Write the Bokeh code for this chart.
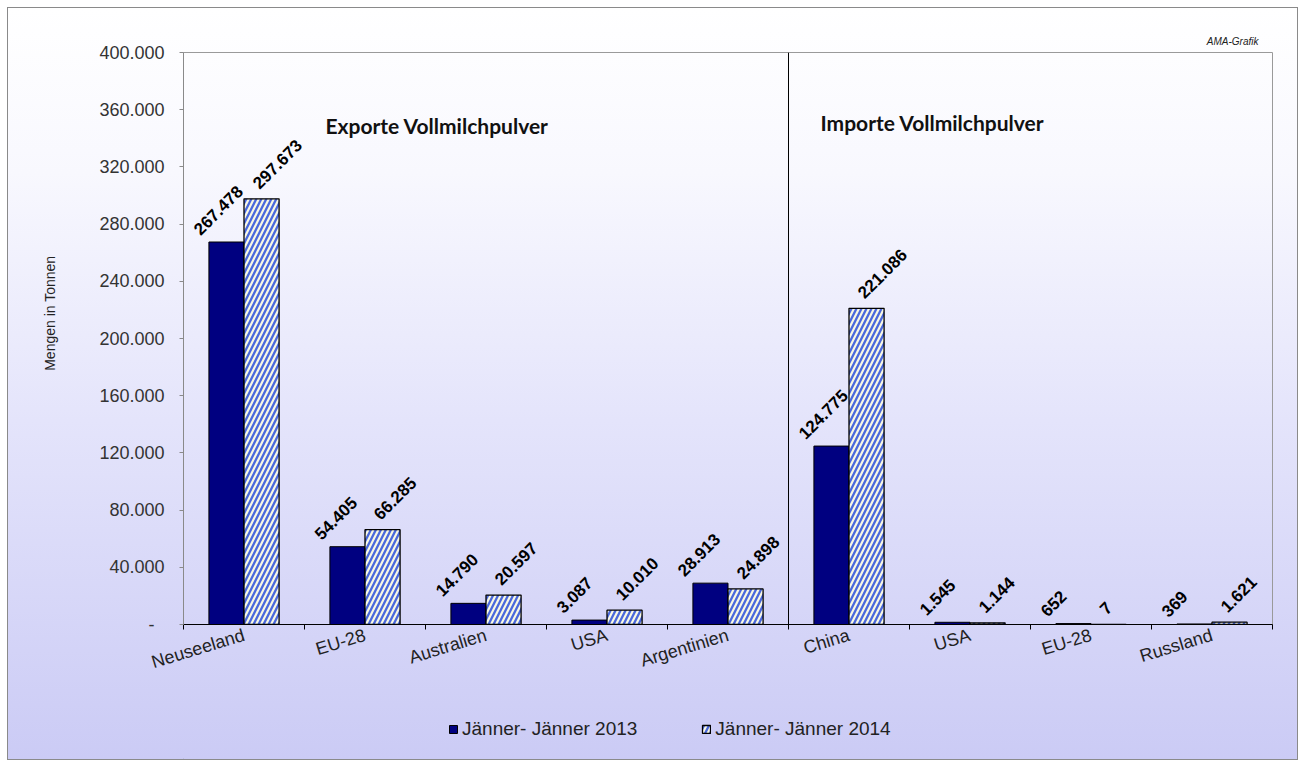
import math
import numpy as np
from bokeh.plotting import figure
from bokeh.layouts import column, row
from bokeh.models import (ColumnDataSource, FixedTicker, Span, Label, Legend, LegendItem,
                          Spacer)
from bokeh.core.properties import value
from bokeh.embed import file_html
from bokeh.resources import INLINE

# ---------------- data ----------------
export_countries = ["Neuseeland", "EU-28", "Australien", "USA", "Argentinien"]
import_countries = ["China", "USA", "EU-28", "Russland"]
exports_2013 = [267478, 54405, 14790, 3087, 28913]
exports_2014 = [297673, 66285, 20597, 10010, 24898]
imports_2013 = [124775, 1545, 652, 369]
imports_2014 = [221086, 1144, 7, 1621]
series_names = ["Jänner- Jänner 2013", "Jänner- Jänner 2014"]
section_titles = ["Exporte Vollmilchpulver", "Importe Vollmilchpulver"]
y_label = "Mengen in Tonnen"
credit = "AMA-Grafik"
y_max = 400000
y_step = 40000

# ---------------- helpers ----------------
def de_fmt(v):
    return f"{v:,}".replace(",", ".")

categories = export_countries + import_countries
n = len(categories)
centers = np.arange(n) + 0.5
boundaries = list(range(n + 1))
v2013 = exports_2013 + imports_2013
v2014 = exports_2014 + imports_2014

bar_w = 0.29
src = ColumnDataSource(dict(
    x13=centers - bar_w / 2, x14=centers + bar_w / 2,
    v13=v2013, v14=v2014,
    t13=[de_fmt(v) for v in v2013], t14=[de_fmt(v) for v in v2014],
))

FONT = "Liberation Sans"
W = 1289
dark_style = dict(fill_color="#000080", line_color="#000000", line_width=1)
hatch_style = dict(fill_color="#f8f8e4", line_color="#000000", line_width=1.3,
                   hatch_pattern="/", hatch_color="#4a68dc", hatch_scale=10, hatch_weight=2.3)

p = figure(width=W, height=692, x_range=(0, n), y_range=(0, y_max),
           output_backend="svg", toolbar_location=None, tools="",
           min_border_left=175, min_border_right=25, min_border_top=44,
           min_border_bottom=76)
p.background_fill_alpha = 0
p.border_fill_alpha = 0
p.outline_line_color = "#9a9a9a"
p.grid.visible = False

# bars
r13 = p.vbar(x="x13", top="v13", width=bar_w, bottom=0, source=src, **dark_style)
r14 = p.vbar(x="x14", top="v14", width=bar_w, bottom=0, source=src, **hatch_style)

# data labels
lbl_style = dict(angle=math.pi / 4, text_font=value(FONT), text_font_style="bold",
                 text_font_size="17px", text_color="#000000", text_align="left",
                 text_baseline="alphabetic")
p.text(x="x13", y="v13", text="t13", source=src, x_offset=-30, y_offset=-10, **lbl_style)
p.text(x="x14", y="v14", text="t14", source=src, x_offset=-6, y_offset=-13, **lbl_style)

# divider between exports and imports
p.add_layout(Span(location=len(export_countries), dimension="height",
                  line_color="#000000", line_width=1))

# y axis
yax = p.yaxis[0]
y_ticks = list(range(0, y_max + 1, y_step))
yax.ticker = FixedTicker(ticks=y_ticks, minor_ticks=[])
yax.major_label_overrides = {t: (de_fmt(t) if t else "-\u00a0\u00a0") for t in y_ticks}
yax.major_label_text_font = FONT
yax.major_label_text_font_size = "18px"
yax.major_label_text_color = "#333333"
yax.major_label_standoff = 15
yax.major_tick_out = 4
yax.major_tick_in = 0
yax.major_tick_line_color = "#8a8a8a"
yax.axis_line_color = "#8a8a8a"
yax.minor_tick_line_color = None
pad = "\u00a0" * 13
yax.axis_label = pad + y_label
yax.axis_label_text_font = FONT
yax.axis_label_text_font_size = "14px"
yax.axis_label_text_font_style = "normal"
yax.axis_label_text_color = "#222222"
yax.axis_label_standoff = 38

# x axis
xax = p.xaxis[0]
xax.ticker = FixedTicker(ticks=list(centers), minor_ticks=boundaries)
xax.major_label_overrides = {float(c): name for c, name in zip(centers, categories)}
xax.major_label_orientation = math.radians(17)
xax.major_label_text_font = FONT
xax.major_label_text_font_size = "18px"
xax.major_label_text_color = "#222222"
xax.major_label_standoff = 5
xax.major_tick_out = 0
xax.major_tick_in = 0
xax.minor_tick_out = 5
xax.minor_tick_in = 0
xax.minor_tick_line_color = "#000000"
xax.axis_line_color = "#000000"

# section titles
for txt, xs, ys in [(section_titles[0], 142, 499), (section_titles[1], 637, 502)]:
    p.add_layout(Label(x=xs, y=ys, x_units="screen", y_units="screen", text=txt,
                       text_font="Lato", text_font_style="bold",
                       text_font_size="21px", text_color="#111111",
                       text_baseline="middle", text_align="left"))

# credit
p.title.text = credit
p.title.align = "right"
p.title.offset = 14
p.title.standoff = 11
p.title.text_font = FONT
p.title.text_font_style = "italic"
p.title.text_font_size = "10px"
p.title.text_color = "#222222"

# legend strip (separate figure below, sharing the background)
p2 = figure(width=W, height=59, x_range=(0, 1), y_range=(0, 1),
            output_backend="svg", toolbar_location=None, tools="",
            x_axis_type=None, y_axis_type=None, min_border=0)
p2.background_fill_alpha = 0
p2.border_fill_alpha = 0
p2.outline_line_color = None
p2.grid.visible = False
# placeholder renderers (one point outside the visible range) that only feed the legend
dummy = ColumnDataSource(dict(x=[-1.0], top=[0.0]))
l13 = p2.vbar(x="x", top="top", width=0.1, source=dummy, **dark_style)
l14 = p2.vbar(x="x", top="top", width=0.1, source=dummy, **hatch_style)
legend = Legend(items=[LegendItem(label=series_names[0], renderers=[l13]),
                       LegendItem(label=series_names[1], renderers=[l14])],
                orientation="horizontal", location=(265, 19),
                background_fill_alpha=0, border_line_color=None,
                padding=0, margin=0, spacing=64, label_standoff=4,
                glyph_width=10, glyph_height=10, label_height=20,
                label_text_font=FONT, label_text_font_size="19px",
                label_text_color="#222222")
p2.add_layout(legend, "center")

chart = column(p, p2, spacing=0)
chart.styles = {"background": "linear-gradient(to bottom, #ffffff 0%, #f8f8fe 22%, #e4e4fb 55%, #cbcbf5 100%)",
                "outline": "1px solid #8a8a8a"}
layout = column(Spacer(height=8), row(Spacer(width=8), chart))
open("out.html", "w").write(file_html(layout, INLINE))
